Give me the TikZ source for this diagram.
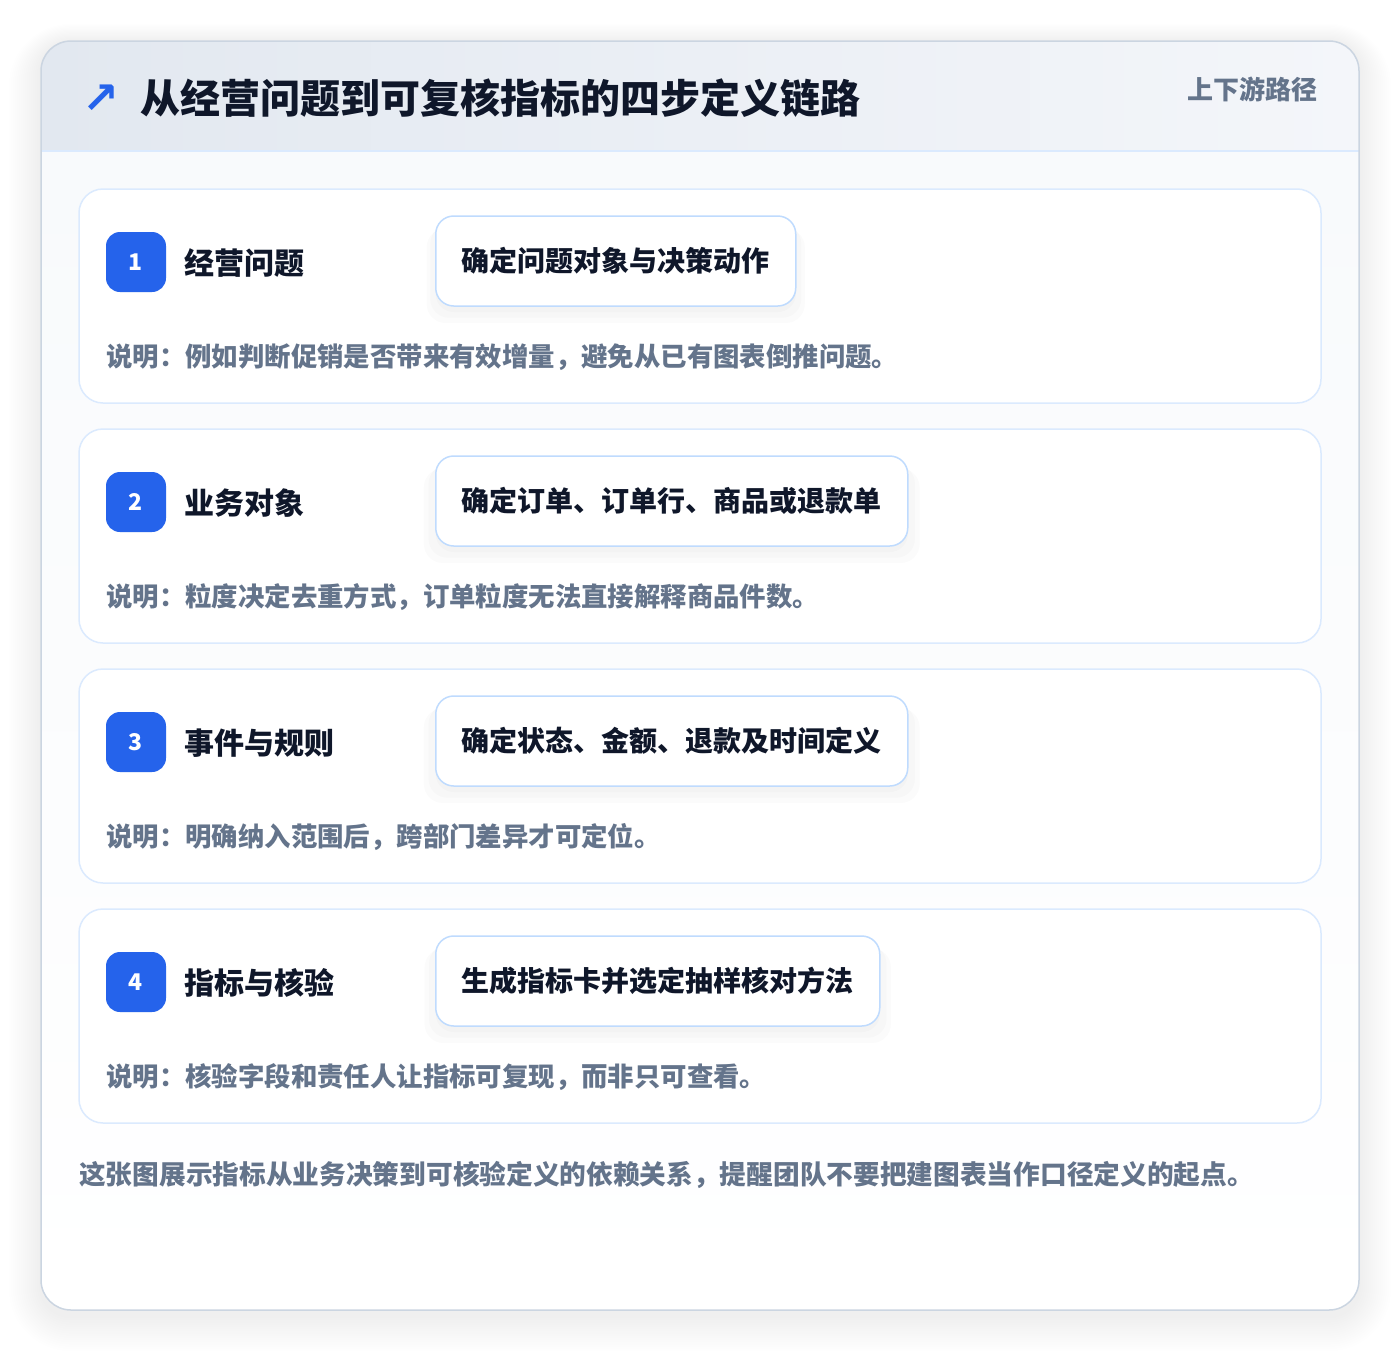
\documentclass[tikz,border=0pt]{standalone}
\usepackage{fontspec}
\setmainfont{Noto Sans CJK SC}
\newfontfamily\symfont{DejaVu Sans}
\usetikzlibrary{positioning,shadows}
\definecolor{ink}{HTML}{0F172A}
\definecolor{muted}{HTML}{64748B}
\definecolor{accent}{HTML}{2563EB}
\definecolor{cardline}{HTML}{CBD5E1}
\definecolor{stepline}{HTML}{DBEAFE}
\definecolor{boxline}{HTML}{BFDBFE}
\definecolor{headA}{HTML}{E2E8F0}
\definecolor{headB}{HTML}{F4F6FA}
\definecolor{bodyA}{HTML}{F8FAFC}
\newcommand{\fsz}[1]{\fontsize{#1}{#1}\selectfont\bfseries}

\begin{document}
\begin{tikzpicture}[x=1pt,y=-1pt]
\tikzstyle{stepcard}=[draw=stepline, line width=1.5pt, fill=white, rounded corners=24pt]
\tikzstyle{badge}=[rectangle, rounded corners=14pt, fill=accent, text=white,
	minimum size=60pt, inner sep=0pt, font=\fsz{23}]
\tikzstyle{steptitle}=[anchor=west, inner sep=0pt, text=ink, font=\fsz{30}]
\tikzstyle{actionbox}=[anchor=west, rectangle, rounded corners=18pt, draw=boxline,
	line width=1.5pt, fill=white, minimum height=90pt, inner xsep=26pt, inner ysep=0pt,
	text=ink, font=\fsz{28},
	drop shadow={opacity=0.03, shadow xshift=0pt, shadow yshift=-14pt, shadow scale=1.05},
	drop shadow={opacity=0.03, shadow xshift=0pt, shadow yshift=-10pt, shadow scale=1.03},
	drop shadow={opacity=0.03, shadow xshift=0pt, shadow yshift=-6pt, shadow scale=1.0}]
\tikzstyle{note}=[anchor=west, inner sep=0pt, text=muted, font=\fsz{26.4}]
\useasboundingbox (0,0) rectangle (1400,1352);
\fill[white] (0,0) rectangle (1400,1352);

% soft shadow round the card
\foreach \i in {1,...,16} {
	\pgfmathsetmacro{\r}{30+2*\i}
	\fill[black, opacity=0.0045, rounded corners=\r pt]
		(41-2*\i,43-1.2*\i) rectangle (1359+2*\i,1316+2.2*\i);
}

% card, header band and body
\begin{scope}
	\clip[rounded corners=30pt] (41,41) rectangle (1359,1310);
	\shade[left color=headA, right color=headB] (41,41) rectangle (1359,151);
	\shade[top color=bodyA, bottom color=white] (41,151) rectangle (1359,1310);
\end{scope}
\coordinate (hl) at (41,151);
\coordinate (hr) at (1359,151);
\draw[stepline, line width=1.5pt] (hl) -- (hr);
\draw[cardline, line width=1.5pt, rounded corners=30pt] (41,41) rectangle (1359,1310);

% header texts
\node[text=accent, inner sep=0pt, font=\symfont\bfseries\fontsize{44}{44}\selectfont] (icon) at (101,99) {↗};
\node[anchor=west, inner sep=0pt, text=ink, font=\fsz{40}] (title) at (140,98)
	{从经营问题到可复核指标的四步定义链路};
\node[anchor=east, inner sep=0pt, text=muted, font=\fsz{26}] (tag) at (1318,89) {上下游路径};

% the four steps
\foreach \n/\ttl/\act/\desc [count=\k from 0] in {
	1/经营问题/确定问题对象与决策动作/说明：例如判断促销是否带来有效增量，避免从已有图表倒推问题。,
	2/业务对象/确定订单、订单行、商品或退款单/说明：粒度决定去重方式，订单粒度无法直接解释商品件数。,
	3/事件与规则/确定状态、金额、退款及时间定义/说明：明确纳入范围后，跨部门差异才可定位。,
	4/指标与核验/生成指标卡并选定抽样核对方法/说明：核验字段和责任人让指标可复现，而非只可查看。}
{
	\pgfmathsetmacro{\top}{189+240*\k}
	\draw[stepcard] (79,\top) rectangle (1321,\top+214);
	\node[badge] (badge\n) at (136,\top+73) {\n};
	\node[steptitle] (title\n) at (184,\top+74) {\ttl};
	\node[actionbox] (act\n) at (435,\top+72) {\act};
	\node[note] (note\n) at (106,\top+168) {\desc};
}

% closing remark
\node[anchor=west, inner sep=0pt, text=muted, font=\fsz{26.7}] (remark) at (79,1175)
	{这张图展示指标从业务决策到可核验定义的依赖关系，提醒团队不要把建图表当作口径定义的起点。};

\end{tikzpicture}
\end{document}
